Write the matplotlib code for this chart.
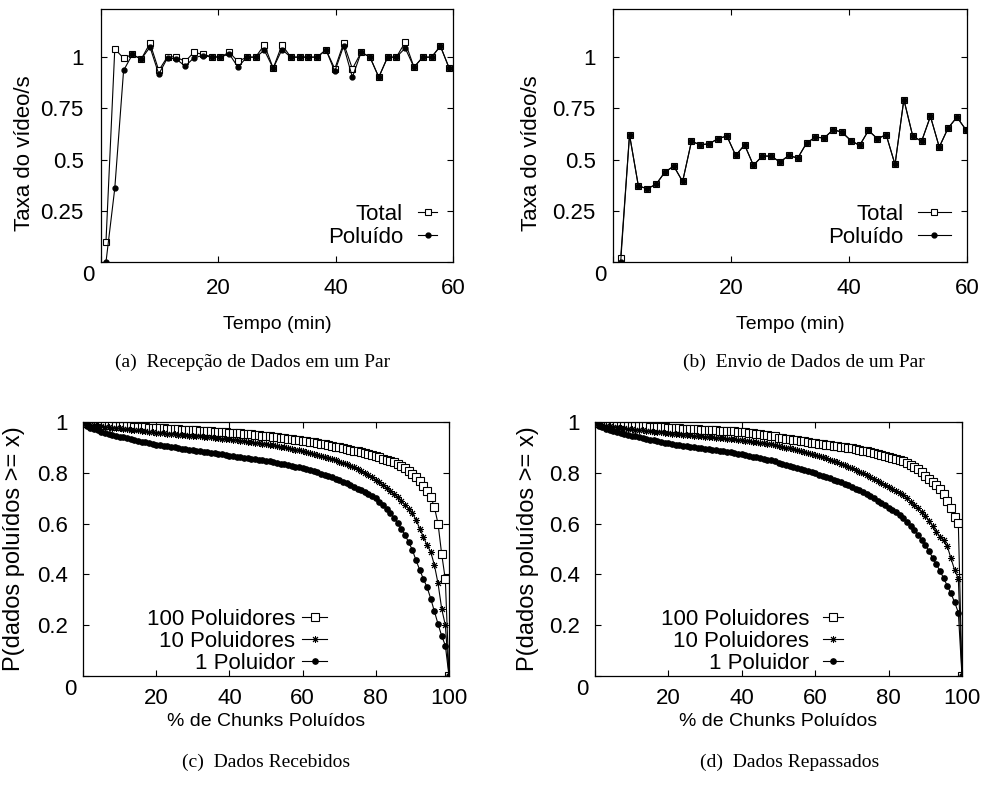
import numpy as np
import matplotlib
matplotlib.use('Agg')
import matplotlib.pyplot as plt

plt.rcParams['font.family'] = ['Liberation Sans', 'DejaVu Sans']
plt.rcParams['font.size'] = 16

W, H = 986, 794
FS = 16       # ticks and legends
FS_X = 14     # x axis titles
FS_Y = 16.5   # y axis titles

# (a) Recepção de Dados em um Par
tempo_a = [0.85, 2.35, 3.85, 5.35, 6.85, 8.35, 9.85, 11.35, 12.85, 14.35,
           15.85, 17.35, 18.85, 20.35, 21.85, 23.35, 24.85, 26.35, 27.85, 29.35,
           30.85, 32.35, 33.85, 35.35, 36.85, 38.35, 39.85, 41.35, 42.85, 44.35,
           45.85, 47.35, 48.85, 50.35, 51.85, 53.35, 54.85, 56.35, 57.85, 59.35]
total_a = [0.10, 1.04, 0.995, 1.013, 0.99, 1.068, 0.935, 1.003, 1.0, 0.979,
           1.024, 1.013, 1.003, 1.0, 1.024, 0.979, 1.0, 1.0, 1.06, 0.946,
           1.06, 1.0, 1.0, 1.0, 1.0, 1.036, 0.943, 1.068, 0.943, 1.024,
           1.0, 0.902, 1.0, 1.0, 1.073, 0.951, 1.0, 1.0, 1.054, 0.946]
poluido_a = [0.0, 0.36, 0.935, 1.013, 0.99, 1.049, 0.917, 0.997, 0.99, 0.956,
             0.997, 1.008, 1.0, 1.0, 1.016, 0.951, 1.0, 1.0, 1.033, 0.946,
             1.037, 1.0, 1.0, 1.0, 1.0, 1.036, 0.93, 1.054, 0.902, 1.024,
             1.0, 0.902, 1.0, 1.0, 1.044, 0.951, 1.0, 1.0, 1.054, 0.946]

# (b) Envio de Dados de um Par
tempo_b = [1.3, 2.8, 4.3, 5.8, 7.3, 8.8, 10.3, 11.8, 13.3, 14.8,
           16.3, 17.8, 19.3, 20.8, 22.3, 23.8, 25.3, 26.8, 28.3, 29.8,
           31.3, 32.8, 34.3, 35.8, 37.3, 38.8, 40.3, 41.8, 43.3, 44.8,
           46.3, 47.8, 49.3, 50.8, 52.3, 53.8, 55.3, 56.8, 58.3, 59.8]
total_b = [0.021, 0.621, 0.371, 0.358, 0.379, 0.439, 0.468, 0.393, 0.589, 0.572,
           0.577, 0.602, 0.615, 0.52, 0.572, 0.472, 0.517, 0.517, 0.488, 0.52,
           0.507, 0.58, 0.61, 0.605, 0.646, 0.634, 0.593, 0.569, 0.642, 0.602,
           0.621, 0.476, 0.793, 0.615, 0.589, 0.711, 0.561, 0.654, 0.707, 0.646]
poluido_b = [0.0, 0.621, 0.371, 0.358, 0.379, 0.439, 0.468, 0.393, 0.589, 0.572,
             0.577, 0.602, 0.615, 0.52, 0.572, 0.472, 0.517, 0.517, 0.488, 0.52,
             0.507, 0.58, 0.61, 0.605, 0.646, 0.634, 0.593, 0.569, 0.642, 0.602,
             0.621, 0.476, 0.793, 0.615, 0.589, 0.711, 0.561, 0.654, 0.707, 0.646]

# (c) Dados Recebidos / (d) Dados Repassados, % de chunks 0..100
pct = np.arange(0, 101)
c_100 = [1.000, 0.995, 0.994, 0.993, 0.991, 0.990, 0.989, 0.988, 0.987, 0.986,
         0.985, 0.984, 0.984, 0.983, 0.982, 0.981, 0.980, 0.979, 0.978, 0.978,
         0.977, 0.976, 0.975, 0.974, 0.973, 0.972, 0.971, 0.970, 0.969, 0.968,
         0.968, 0.967, 0.966, 0.965, 0.964, 0.963, 0.962, 0.961, 0.960, 0.959,
         0.958, 0.957, 0.956, 0.955, 0.953, 0.952, 0.951, 0.949, 0.948, 0.946,
         0.945, 0.943, 0.941, 0.940, 0.938, 0.936, 0.934, 0.932, 0.930, 0.929,
         0.927, 0.925, 0.922, 0.920, 0.917, 0.915, 0.912, 0.909, 0.906, 0.903,
         0.900, 0.897, 0.894, 0.891, 0.887, 0.884, 0.880, 0.877, 0.873, 0.869,
         0.865, 0.861, 0.856, 0.852, 0.847, 0.843, 0.836, 0.828, 0.820, 0.808,
         0.795, 0.782, 0.766, 0.748, 0.730, 0.706, 0.665, 0.600, 0.480, 0.380, 0.000]
c_10 = [1.000, 0.990, 0.988, 0.987, 0.985, 0.983, 0.981, 0.980, 0.978, 0.977,
        0.975, 0.973, 0.972, 0.970, 0.968, 0.967, 0.965, 0.963, 0.962, 0.960,
        0.958, 0.957, 0.956, 0.954, 0.953, 0.952, 0.950, 0.949, 0.948, 0.946,
        0.945, 0.944, 0.943, 0.941, 0.940, 0.939, 0.938, 0.936, 0.935, 0.934,
        0.933, 0.931, 0.929, 0.927, 0.925, 0.923, 0.921, 0.919, 0.917, 0.915,
        0.913, 0.911, 0.908, 0.905, 0.903, 0.900, 0.897, 0.894, 0.891, 0.888,
        0.885, 0.882, 0.878, 0.875, 0.871, 0.867, 0.863, 0.859, 0.854, 0.849,
        0.844, 0.839, 0.833, 0.827, 0.821, 0.815, 0.808, 0.800, 0.791, 0.782,
        0.772, 0.762, 0.751, 0.740, 0.728, 0.716, 0.703, 0.689, 0.674, 0.659,
        0.640, 0.615, 0.580, 0.548, 0.515, 0.489, 0.437, 0.365, 0.265, 0.200, 0.000]
c_1 = [1.000, 0.985, 0.978, 0.972, 0.967, 0.962, 0.958, 0.954, 0.950, 0.946,
       0.942, 0.939, 0.936, 0.932, 0.929, 0.926, 0.923, 0.920, 0.917, 0.914,
       0.911, 0.909, 0.907, 0.904, 0.902, 0.900, 0.897, 0.895, 0.893, 0.891,
       0.889, 0.887, 0.885, 0.883, 0.881, 0.879, 0.877, 0.875, 0.873, 0.870,
       0.868, 0.866, 0.864, 0.862, 0.860, 0.858, 0.856, 0.854, 0.852, 0.850,
       0.848, 0.845, 0.842, 0.839, 0.836, 0.833, 0.830, 0.827, 0.824, 0.821,
       0.818, 0.814, 0.810, 0.806, 0.802, 0.797, 0.792, 0.787, 0.782, 0.776,
       0.770, 0.764, 0.758, 0.751, 0.745, 0.738, 0.731, 0.724, 0.716, 0.708,
       0.700, 0.687, 0.673, 0.659, 0.641, 0.623, 0.601, 0.579, 0.555, 0.526,
       0.496, 0.455, 0.418, 0.382, 0.350, 0.305, 0.255, 0.205, 0.158, 0.120, 0.000]
d_100 = [1.000, 0.995, 0.994, 0.993, 0.992, 0.991, 0.990, 0.989, 0.988, 0.987,
         0.986, 0.985, 0.984, 0.984, 0.983, 0.982, 0.981, 0.980, 0.979, 0.979,
         0.978, 0.977, 0.976, 0.975, 0.974, 0.974, 0.973, 0.972, 0.971, 0.970,
         0.970, 0.969, 0.968, 0.967, 0.966, 0.966, 0.965, 0.964, 0.963, 0.962,
         0.962, 0.960, 0.958, 0.956, 0.954, 0.952, 0.950, 0.948, 0.946, 0.944,
         0.938, 0.936, 0.934, 0.932, 0.930, 0.928, 0.926, 0.924, 0.921, 0.919,
         0.916, 0.914, 0.912, 0.910, 0.908, 0.906, 0.904, 0.902, 0.900, 0.898,
         0.896, 0.893, 0.890, 0.887, 0.884, 0.881, 0.878, 0.874, 0.870, 0.866,
         0.863, 0.859, 0.855, 0.850, 0.845, 0.839, 0.832, 0.822, 0.814, 0.802,
         0.787, 0.774, 0.764, 0.752, 0.737, 0.716, 0.690, 0.660, 0.627, 0.601, 0.000]
d_10 = [1.000, 0.990, 0.988, 0.986, 0.984, 0.982, 0.980, 0.978, 0.976, 0.974,
        0.972, 0.970, 0.969, 0.967, 0.966, 0.964, 0.962, 0.960, 0.959, 0.957,
        0.955, 0.954, 0.952, 0.951, 0.950, 0.948, 0.947, 0.946, 0.944, 0.943,
        0.942, 0.941, 0.940, 0.938, 0.937, 0.936, 0.935, 0.933, 0.932, 0.930,
        0.929, 0.927, 0.925, 0.923, 0.921, 0.919, 0.917, 0.915, 0.913, 0.911,
        0.905, 0.902, 0.899, 0.896, 0.893, 0.890, 0.886, 0.882, 0.878, 0.874,
        0.870, 0.866, 0.862, 0.857, 0.852, 0.847, 0.842, 0.836, 0.830, 0.824,
        0.818, 0.812, 0.805, 0.798, 0.791, 0.784, 0.777, 0.769, 0.761, 0.753,
        0.745, 0.737, 0.729, 0.721, 0.713, 0.700, 0.686, 0.672, 0.660, 0.646,
        0.630, 0.612, 0.590, 0.568, 0.548, 0.535, 0.510, 0.463, 0.417, 0.383, 0.000]
d_1 = [1.000, 0.985, 0.979, 0.974, 0.969, 0.964, 0.960, 0.956, 0.952, 0.949,
       0.946, 0.943, 0.940, 0.937, 0.934, 0.931, 0.928, 0.925, 0.922, 0.919,
       0.916, 0.914, 0.911, 0.909, 0.907, 0.905, 0.903, 0.900, 0.898, 0.896,
       0.894, 0.892, 0.890, 0.888, 0.886, 0.884, 0.882, 0.880, 0.878, 0.875,
       0.873, 0.870, 0.867, 0.864, 0.861, 0.858, 0.855, 0.852, 0.849, 0.846,
       0.838, 0.834, 0.830, 0.826, 0.822, 0.818, 0.814, 0.810, 0.806, 0.802,
       0.798, 0.793, 0.788, 0.783, 0.778, 0.773, 0.767, 0.762, 0.756, 0.751,
       0.745, 0.738, 0.731, 0.723, 0.715, 0.707, 0.699, 0.690, 0.681, 0.672,
       0.663, 0.655, 0.645, 0.634, 0.621, 0.607, 0.592, 0.575, 0.557, 0.537,
       0.516, 0.491, 0.466, 0.440, 0.414, 0.385, 0.355, 0.325, 0.290, 0.250, 0.000]

labels_ab = ['Total', 'Poluído']
labels_cd = ['100 Poluidores', '10 Poluidores', '1 Poluidor']
captions = ['(a)  Recepção de Dados em um Par', '(b)  Envio de Dados de um Par',
            '(c)  Dados Recebidos', '(d)  Dados Repassados']


def px_axes(fig, left, top, right, bottom):
    # pixel box -> figure fraction
    return fig.add_axes([left / W, 1 - bottom / H, (right - left) / W, (bottom - top) / H])


def style(ax, xpad, ypad):
    ax.tick_params(direction='in', top=True, right=True, length=4, width=0.8,
                   labelsize=FS)
    ax.tick_params(axis='x', pad=xpad)
    ax.tick_params(axis='y', pad=ypad)
    for s in ax.spines.values():
        s.set_linewidth(0.9)
    ax.annotate('0', xy=(0, 0), xycoords='axes fraction', xytext=(-9, -9.5),
                textcoords='offset points', ha='center', va='center', fontsize=FS)


fig = plt.figure(figsize=(W / 100, H / 100), dpi=100)

axa = px_axes(fig, 101, 9, 453, 262)
axb = px_axes(fig, 613, 9, 967, 262)
axc = px_axes(fig, 83, 422, 449, 676)
axd = px_axes(fig, 595, 422, 962, 676)

sq = dict(marker='s', mfc='white', mec='black', color='black', lw=0.8, mew=0.8)
dot = dict(marker='o', mfc='black', mec='black', color='black', lw=0.8)

for ax, t, tot, pol, ylx, hl, htp, anchor in [
        (axa, tempo_a, total_a, poluido_a, -0.216, 0.86, 0.68, 0.955),
        (axb, tempo_b, total_b, poluido_b, -0.229, 1.5, 0.63, 0.955)]:
    ax.plot(t, tot, ms=4.3, label=labels_ab[0], **sq)
    ax.plot(t, pol, ms=3.5, label=labels_ab[1], **dot)
    ax.set_xlim(0, 60)
    ax.set_ylim(0, 1.235)
    ax.set_xticks([0, 20, 40, 60])
    ax.set_xticklabels(['', '20', '40', '60'])
    ax.set_yticks([0, 0.25, 0.5, 0.75, 1])
    ax.set_yticklabels(['', '0.25', '0.5', '0.75', '1'])
    style(ax, 11.5, 12.5)
    ax.set_xlabel('Tempo (min)', fontsize=FS_X)
    ax.xaxis.set_label_coords(0.5, -0.249)
    ax.xaxis.label.set_va('center')
    ax.set_ylabel('Taxa do vídeo/s', fontsize=FS_Y - 0.5)
    ax.yaxis.set_label_coords(ylx, 0.431)
    ax.yaxis.label.set_va('center')
    ax.legend(loc='lower right', bbox_to_anchor=(anchor, 0.055), frameon=False,
              markerfirst=False, numpoints=1, handlelength=hl, handletextpad=htp,
              borderpad=0, borderaxespad=0, labelspacing=0.1, fontsize=FS)

star = dict(marker=(8, 2, 0), color='black', lw=0.8, mew=0.7)
for ax, s100, s10, s1, ylx, hl, htp, anchor in [
        (axc, c_100, c_10, c_1, -0.189, 1.13, 0.32, 0.667),
        (axd, d_100, d_10, d_1, -0.183, 0.9, 0.63, 0.676)]:
    ax.plot(pct, s100, ms=5.2, label=labels_cd[0], **sq)
    ax.plot(pct, s10, ms=5, label=labels_cd[1], **star)
    ax.plot(pct, s1, ms=3.8, label=labels_cd[2], **dot)
    ax.set_xlim(0, 100)
    ax.set_ylim(0, 1)
    ax.set_xticks([0, 20, 40, 60, 80, 100])
    ax.set_xticklabels(['', '20', '40', '60', '80', '100'])
    ax.set_yticks([0, 0.2, 0.4, 0.6, 0.8, 1])
    ax.set_yticklabels(['', '0.2', '0.4', '0.6', '0.8', '1'])
    style(ax, 9, 11)
    ax.set_xlabel('% de Chunks Poluídos', fontsize=FS_X)
    ax.xaxis.set_label_coords(0.5, -0.18)
    ax.xaxis.label.set_va('center')
    ax.set_ylabel('P(dados poluídos >= x)', fontsize=FS_Y + 0.5)
    ax.yaxis.set_label_coords(ylx, 0.5)
    ax.yaxis.label.set_va('center')
    ax.legend(loc='lower right', bbox_to_anchor=(anchor, 0.008), frameon=False,
              markerfirst=False, numpoints=1, handlelength=hl, handletextpad=htp,
              borderpad=0, borderaxespad=0, labelspacing=0.05, fontsize=FS)

for cap, (x, y) in zip(captions, [(253, 362), (804, 362), (266, 762), (790, 762)]):
    fig.text(x / W, 1 - y / H, cap, ha='center', va='center',
             family='Liberation Serif', fontsize=14)

fig.savefig('out.png', dpi=100)
